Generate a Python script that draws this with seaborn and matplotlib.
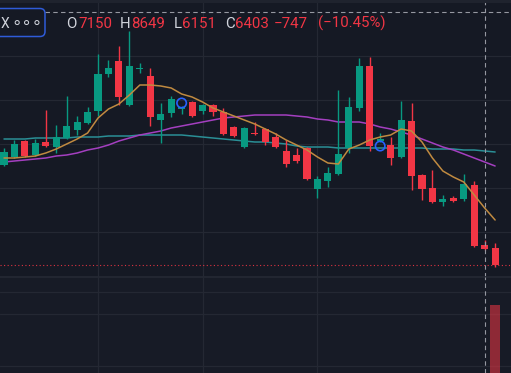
import matplotlib
matplotlib.use("Agg")
import matplotlib.pyplot as plt
from matplotlib.patches import FancyBboxPatch, Rectangle
import numpy as np
import pandas as pd
import seaborn as sns

# candle data
opens = [11400, 11800, 12600, 11900, 12550, 12300, 12750, 13150, 13500, 14100,
         15950, 16600, 14400, 16200, 15850, 13650, 14000, 14200, 14550, 14100,
         14400, 14050, 13300, 12300, 13000, 13200, 12800, 12100, 11900, 12250,
         10200, 10600, 10950, 12250, 14250, 16350, 12600, 12400, 11800, 13600,
         10900, 10250, 9550, 9750, 9700, 10400, 7400, 7250]
highs = [12250, 12650, 12650, 12700, 14150, 13400, 14850, 13850, 14300, 16950,
         16650, 17350, 18100, 16500, 16250, 14500, 14850, 14350, 14600, 14450,
         14450, 14250, 13350, 13300, 13550, 13250, 13000, 12650, 12250, 12300,
         10850, 11300, 15150, 14800, 16750, 16800, 13000, 12800, 14600, 14500,
         10950, 11150, 9900, 9850, 10950, 10600, 7650, 7500]
lows = [11350, 11750, 11800, 11850, 12300, 12000, 12700, 12900, 13450, 13850,
        15800, 14400, 14350, 16000, 13350, 12500, 13800, 13950, 13800, 13950,
        13850, 12900, 12800, 12250, 12900, 12400, 12250, 11300, 11500, 10650,
        9750, 10300, 10900, 12000, 14100, 12100, 12550, 11400, 11750, 10150,
        9650, 9500, 9350, 9550, 9600, 7300, 7150, 6300]
closes = [12050, 12450, 11850, 12500, 12350, 12800, 13350, 13550, 14050, 15950,
          16250, 14800, 16350, 16250, 13800, 13950, 14700, 14300, 13850, 14400,
          14050, 12950, 12850, 13250, 12950, 12550, 12300, 11450, 11600, 10700,
          10700, 11000, 11950, 14300, 16350, 12350, 12700, 11750, 13650, 10850,
          10200, 9550, 9700, 9600, 10450, 7350, 7200, 6400]

# moving averages
ma_fast = [11750, 11750, 11800, 11850, 12000, 12200, 12450, 12700, 13000, 13750,
           14200, 14450, 14900, 15400, 15400, 15350, 15250, 14950, 14800, 14550,
           14250, 14050, 13850, 13650, 13450, 13200, 12950, 12650, 12400, 12150,
           11800, 11500, 11450, 12200, 12400, 12650, 12800, 12900, 13200, 13100,
           12550, 11750, 11100, 10800, 10550, 9900, 9250, 8650]
ma_mid = [11550, 11600, 11650, 11700, 11750, 11850, 11900, 12000, 12150, 12250,
          12400, 12600, 12750, 12900, 13000, 13100, 13250, 13350, 13450, 13550,
          13650, 13750, 13800, 13850, 13900, 13900, 13900, 13900, 13850, 13800,
          13700, 13650, 13550, 13550, 13550, 13450, 13300, 13200, 13050, 12900,
          12700, 12500, 12300, 12150, 11950, 11750, 11550, 11350]
ma_slow = [12700, 12700, 12700, 12750, 12750, 12750, 12750, 12800, 12800, 12800,
           12850, 12850, 12850, 12900, 12900, 12900, 12900, 12900, 12850, 12800,
           12750, 12700, 12650, 12600, 12550, 12550, 12500, 12450, 12350, 12300,
           12300, 12300, 12250, 12250, 12250, 12250, 12250, 12250, 12250, 12250,
           12250, 12200, 12200, 12200, 12150, 12150, 12100, 12050]

signal_idx = [17, 36]
signal_price = [14500, 12350]

volume_idx = [47]
volume = [68]

header = [("O", "7150"), ("H", "8649"), ("L", "6151"), ("C", "6403")]
change_abs = "\u2212747"
change_pct = "(\u221210.45%)"

BG = "#151924"
BG_VOL = "#171b26"
GRID = "#242833"
UP = "#089981"
DOWN = "#f23645"
CROSS = "#9598a1"

sns.set_theme(style="dark", rc={"axes.facecolor": BG, "figure.facecolor": BG})
plt.rcParams["font.family"] = ["Roboto", "DejaVu Sans"]

df = pd.DataFrame({"open": opens, "high": highs, "low": lows, "close": closes,
                   "fast": ma_fast, "mid": ma_mid, "slow": ma_slow})
df["idx"] = np.arange(len(df))
colors = np.where(df["close"] >= df["open"], UP, DOWN)

W, H = 511, 373
fig = plt.figure(figsize=(W / 100, H / 100), dpi=100)
main_h = 277
ax = fig.add_axes([0, (H - main_h) / H, 1, main_h / H])
axv = fig.add_axes([0, 0, 1, (H - main_h) / H], facecolor=BG_VOL)

xlim = (-0.383, 48.52)
for a in (ax, axv):
    a.set_xlim(*xlim)
    a.set_xticks([9, 19, 30])
    a.tick_params(length=0, labelbottom=False, labelleft=False)
    a.grid(True, color=GRID, lw=0.9)
    for s in a.spines.values():
        s.set_visible(False)

ax.set_ylim(5800, 19650)
ax.set_yticks([8050, 10250, 12450, 14650, 16850])

# candles
ax.vlines(df["idx"], df["low"], df["high"], color=colors, lw=1, zorder=3)
body_lo = df[["open", "close"]].min(axis=1)
body_h = (df["close"] - df["open"]).abs().clip(lower=50)
ax.bar(df["idx"], body_h, bottom=body_lo, width=0.68, color=colors, lw=0, zorder=4)

# moving averages
sns.lineplot(data=df, x="idx", y="slow", ax=ax, color="#2a8f96", lw=1.1, zorder=2)
sns.lineplot(data=df, x="idx", y="mid", ax=ax, color="#a43fc0", lw=1.1, zorder=2)
sns.lineplot(data=df, x="idx", y="fast", ax=ax, color="#c08a40", lw=1.1, zorder=5)
ax.set_xlabel("")
ax.set_ylabel("")

ax.scatter(signal_idx, signal_price, s=46, facecolors="none",
           edgecolors="#2962ff", linewidths=1.2, zorder=6)

# last price line
ax.axhline(df["close"].iloc[-1], color=DOWN, ls=(0, (1, 2.2)), lw=0.8, alpha=0.9, zorder=1)

# crosshair
for a in (ax, axv):
    a.axvline(46, color=CROSS, ls=(0, (4, 3)), lw=0.8, zorder=7)
ax.axhline(19050, xmin=45 / W, xmax=1, color=CROSS, ls=(0, (4, 3)), lw=0.8, zorder=7)

# volume pane
axv.set_ylim(0, 96)
axv.set_yticks([7, 59, 81])
axv.spines["top"].set_visible(True)
axv.spines["top"].set_color(GRID)
axv.bar(volume_idx, volume, width=0.9, color=DOWN, alpha=0.55, lw=0, zorder=3)

# header overlay in pixel coords
ov = fig.add_axes([0, 0, 1, 1])
ov.set_xlim(0, W)
ov.set_ylim(H, 0)
ov.axis("off")
ov.patch.set_alpha(0)
ov.add_patch(Rectangle((0, 0), W, 2.5, color="#1f232e", lw=0))
ov.add_patch(FancyBboxPatch((-8, 8.5), 53, 28, boxstyle="round,pad=0,rounding_size=5",
                            ec="#2f5bd8", fc=BG, lw=1.1))
ov.text(1, 27.5, "X", color="#d1d4dc", fontsize=10, va="baseline", ha="left")
ov.text(27, 22.5, "\u2218\u2218\u2218", color="#d1d4dc", fontsize=12, va="center",
        ha="center", family="DejaVu Sans")

fs = 10.8
xs = [(66, 78), (120, 131.5), (174, 182), (225, 235.5)]
for (lab, val), (xl, xv) in zip(header, xs):
    ov.text(xl, 28, lab, color="#d1d4dc", fontsize=fs, va="baseline", ha="left")
    ov.text(xv, 28, val, color=DOWN, fontsize=fs, va="baseline", ha="left")
ov.text(274, 28, change_abs, color=DOWN, fontsize=fs, va="baseline", ha="left")
ov.text(318, 28, change_pct, color=DOWN, fontsize=fs, va="baseline", ha="left")

fig.savefig("out.png", dpi=100, facecolor=BG)
